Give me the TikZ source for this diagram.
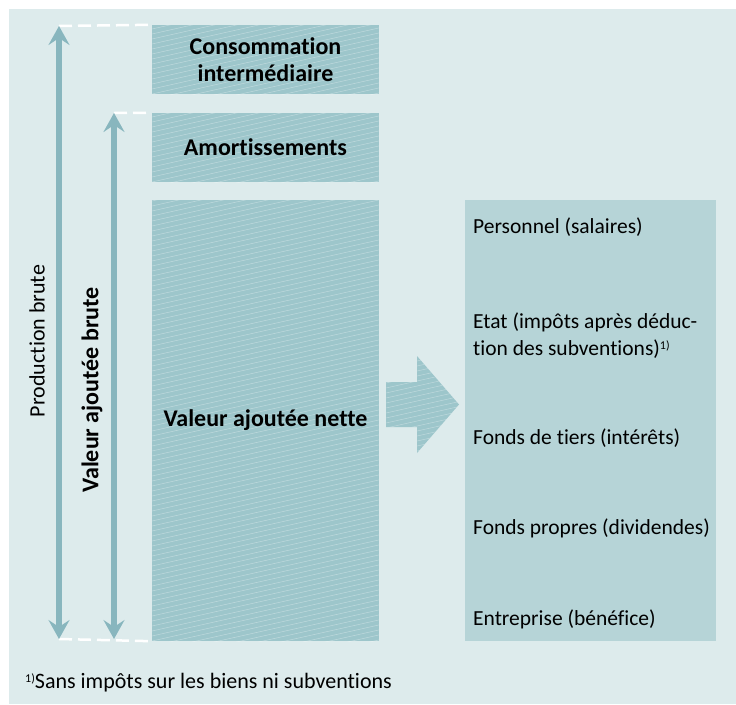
\documentclass[tikz,border=0pt]{standalone}
\usepackage{fontspec}
\setmainfont[Ligatures=NoCommon]{Carlito}
\usetikzlibrary{arrows.meta}
\definecolor{panelbg}{HTML}{DDEBEC}
\definecolor{boxfill}{HTML}{9DC6CB}
\definecolor{arrowcol}{HTML}{88B6BE}
\definecolor{sharefill}{HTML}{B6D4D7}
\tikzset{
  hatched/.style={fill=boxfill, path picture={
    \foreach \k in {-15,...,95}
      \draw[white, opacity=.35, line width=.5pt]
        ([yshift=5*\k pt]path picture bounding box.south west) -- ++(400pt,90pt);}},
  box/.style={hatched, minimum width=227pt, inner sep=0pt, align=center,
    font=\fontsize{24}{27}\selectfont\bfseries},
  share/.style={anchor=west, align=left, inner sep=0pt, font=\fontsize{21.5}{27}\selectfont},
  span/.style={arrowcol, line width=6pt,
    {Stealth[length=19pt, width=21pt, inset=7pt]}-{Stealth[length=19pt, width=21pt, inset=7pt]}},
  guide/.style={white, line width=2.5pt, dash pattern=on 13pt off 6pt}
}
\begin{document}
\begin{tikzpicture}[x=1pt, y=-1pt]
    \useasboundingbox (0,0) rectangle (736,704);
    \fill[panelbg] (9,9) rectangle (736,704);
    % left column
    \node[box, minimum height=69pt] (conso) at (265.5,59.5) {Consommation\\interm\'ediaire};
    \node[box, minimum height=69pt] (amort) at (265.5,147.5) {Amortissements};
    \node[box, minimum height=441pt] (nette) at (265.5,420.5) {Valeur ajout\'ee nette};
    % flow arrow
    \path[hatched] (386,382) -- (417,382) -- (417,356) -- (459,404.5) -- (417,453)
        -- (417,427) -- (386,427) -- cycle;
    % distribution
    \node[fill=sharefill, minimum width=251pt, minimum height=441pt, inner sep=0pt] (dist) at (590.5,420.5) {};
    \node[share] (pers) at (473,227) {Personnel (salaires)};
    \node[share] (etat) at (473,336) {Etat (imp\^ots apr\`es d\'educ-\\tion des subventions)\raisebox{6pt}{\fontsize{12}{12}\selectfont 1)}};
    \node[share] (tiers) at (473,438) {Fonds de tiers (int\'er\^ets)};
    \node[share] (propres) at (473,528) {Fonds propres (dividendes)};
    \node[share] (entr) at (473,619) {Entreprise (b\'en\'efice)};
    % spans
    \coordinate (pbtop) at (59,26);
    \coordinate (pbbot) at (59,639);
    \coordinate (vabtop) at (114,113);
    \coordinate (vabbot) at (114,639);
    \draw[guide] (pbtop) -- (conso.north west);
    \draw[guide] (vabtop) -- (amort.north west);
    \draw[guide] (pbbot) -- (nette.south west);
    \draw[span] (pbtop) -- (pbbot);
    \draw[span] (vabtop) -- (vabbot);
    \node[rotate=90, font=\fontsize{22}{27}\selectfont] (pblabel) at (37,341) {Production brute};
    \node[rotate=90, font=\fontsize{24}{27}\selectfont\bfseries] (vablabel) at (92,390) {Valeur ajout\'ee brute};
    % footnote
    \node[anchor=west, inner sep=0pt, font=\fontsize{22}{27}\selectfont] (note) at (25,683)
        {\raisebox{6pt}{\fontsize{12}{12}\selectfont 1)}Sans imp\^ots sur les biens ni subventions};
\end{tikzpicture}
\end{document}
